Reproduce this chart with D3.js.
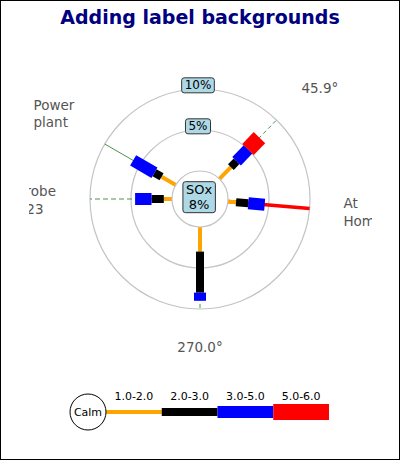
<!DOCTYPE html>
<html><head><meta charset="utf-8">
<script src="https://cdn.jsdelivr.net/npm/d3@7/dist/d3.min.js"></script>
<style>body{margin:0;background:#fff}svg{display:block}</style>
</head><body><svg id="c" width="400" height="460"></svg>
<script>
// ---- data ----
const title = "Adding label backgrounds";
const directions = [45.9, 355, 180, 150, 270];
const directionLabels = ["45.9°", "At\nHome", "Probe\n123", "Power\nplant", "270.0°"];
const seriesValues = [[2, 1, 2, 2], [1, 1.5, 2], [1, 1.5, 2], [2, 1, 3], [3, 5, 1]];
const rangeLabels = ["1.0-2.0", "2.0-3.0", "3.0-5.0", "5.0-6.0"];
const rangeColors = ["#ffa500", "#000000", "#0000ff", "#ff0000"];
const rangeWidths = [4, 8, 12, 16];
const ringValues = [5, 10];
const ringLabels = ["5%", "10%"];
const calmLabel = ["SOx", "8%"];
const gridColors = ["#4a944a", "#ff0000", "#4a944a", "#4a944a", "#4a944a"];
const gridWeights = [1, 3.5, 1, 1, 1];
const gridDashes = ["4,3", null, "5,3", null, "4,3"];

// ---- layout ----
const W = 400, H = 460;
const cx = 200, cy = 199;
const r0 = 28, R = 110;
const svg = d3.select("#c");
const FONT = "DejaVu Sans, Verdana, sans-serif";

svg.append("rect").attr("x", 0.5).attr("y", 0.5).attr("width", W - 1).attr("height", H - 1)
  .attr("fill", "#fff").attr("stroke", "#000");

svg.append("text").attr("x", W / 2).attr("y", 24).attr("text-anchor", "middle")
  .attr("font-family", FONT).attr("font-weight", "bold").attr("font-size", 19)
  .attr("fill", "#000080").text(title);

const rScale = d3.scaleLinear().domain([0, 10]).range([r0, R]);
const rad = a => a * Math.PI / 180;
const pt = (a, r) => [cx + r * Math.cos(rad(a)), cy - r * Math.sin(rad(a))];

const g = svg.append("g");
// rings
g.selectAll("circle.ring").data(ringValues).join("circle").attr("class", "ring")
  .attr("cx", cx).attr("cy", cy).attr("r", d => rScale(d))
  .attr("fill", "none").attr("stroke", "#c4c4c4").attr("stroke-width", 1.2);

// radial grid lines
directions.forEach((a, i) => {
  const p1 = pt(a, r0), p2 = pt(a, R);
  g.append("line").attr("x1", p1[0]).attr("y1", p1[1]).attr("x2", p2[0]).attr("y2", p2[1])
    .attr("stroke", gridColors[i]).attr("stroke-width", gridWeights[i])
    .attr("stroke-dasharray", gridDashes[i]);
});

// legs
directions.forEach((a, i) => {
  let acc = 0;
  seriesValues[i].forEach((v, j) => {
    const p1 = pt(a, rScale(acc)), p2 = pt(a, rScale(acc + v));
    acc += v;
    g.append("line").attr("x1", p1[0]).attr("y1", p1[1]).attr("x2", p2[0]).attr("y2", p2[1])
      .attr("stroke", rangeColors[j]).attr("stroke-width", rangeWidths[j]).attr("stroke-linecap", "butt");
  });
});

// calm circle
g.append("circle").attr("cx", cx).attr("cy", cy).attr("r", r0)
  .attr("fill", "#fff").attr("stroke", "#c4c4c4").attr("stroke-width", 1.2);

// label box helper
function boxLabel(parent, x, y, lines, fs, lh) {
  const grp = parent.append("g");
  const t = grp.append("text").attr("font-family", FONT).attr("font-size", fs)
    .attr("text-anchor", "middle").attr("fill", "#000");
  const n = lines.length;
  lines.forEach((s, k) => {
    t.append("tspan").attr("x", x).attr("y", y + (k - (n - 1) / 2) * lh + fs * 0.36).text(s);
  });
  const bb = t.node().getBBox();
  grp.insert("rect", "text").attr("x", bb.x - 3).attr("y", bb.y - 0.5)
    .attr("width", bb.width + 6).attr("height", bb.height + 1)
    .attr("rx", 2.5).attr("fill", "#add8e6").attr("stroke", "#333").attr("stroke-width", 1);
}
// ring labels
ringValues.forEach((v, i) => boxLabel(g, cx - 2, cy - rScale(v) - 4, [ringLabels[i]], 12, 14));
// calm label
boxLabel(g, cx - 1, cy - 2, calmLabel, 13, 15);

// direction labels (multi-line blocks, lines left-aligned inside the block)
const clip = svg.append("clipPath").attr("id", "lc");
clip.append("rect").attr("x", 29).attr("y", 0).attr("width", 343).attr("height", H);
const lg = svg.append("g").attr("clip-path", "url(#lc)");
const LFS = 13.5, LLH = 17.5, margin = 30, pad = 4;
directions.forEach((a, i) => {
  const lines = directionLabels[i].split("\n");
  const [px, py] = pt(a, R + margin);
  const c = Math.cos(rad(a)), s = Math.sin(rad(a));
  const hBox = lines.length * LLH;
  let top;
  if (Math.abs(s) < 0.2) top = py - hBox / 2 + 2;
  else if (s > 0) top = py - hBox + (lines.length > 1 ? 3 : 0);
  else top = py;
  const t = lg.append("text").attr("font-family", FONT).attr("font-size", LFS)
    .attr("fill", "#555").attr("text-anchor", "start");
  lines.forEach((str, k) => {
    t.append("tspan").attr("x", 0).attr("y", top + 12.5 + k * LLH).text(str);
  });
  const bw = t.node().getBBox().width;
  let left;
  if (Math.abs(c) < 0.01) left = px - bw / 2;
  else if (c > 0) left = px + pad;
  else left = px - pad - bw;
  t.selectAll("tspan").attr("x", left);
});

// legend
const ly = 412, lcx = 88, lr = 18, segW = 55.75;
const lgd = svg.append("g");
const lx = d3.scaleLinear().domain([0, rangeLabels.length]).range([lcx + lr, lcx + lr + segW * rangeLabels.length]);
rangeLabels.forEach((lab, j) => {
  lgd.append("line").attr("x1", lx(j)).attr("x2", lx(j + 1)).attr("y1", ly).attr("y2", ly)
    .attr("stroke", rangeColors[j]).attr("stroke-width", rangeWidths[j]);
  lgd.append("text").attr("x", (lx(j) + lx(j + 1)) / 2).attr("y", 400).attr("text-anchor", "middle")
    .attr("font-family", FONT).attr("font-size", 11).attr("fill", "#000").text(lab);
});
lgd.append("circle").attr("cx", lcx).attr("cy", ly).attr("r", lr).attr("fill", "#fff").attr("stroke", "#000");
lgd.append("text").attr("x", lcx).attr("y", ly + 4).attr("text-anchor", "middle")
  .attr("font-family", FONT).attr("font-size", 11).attr("fill", "#000").text("Calm");
</script></body></html>
